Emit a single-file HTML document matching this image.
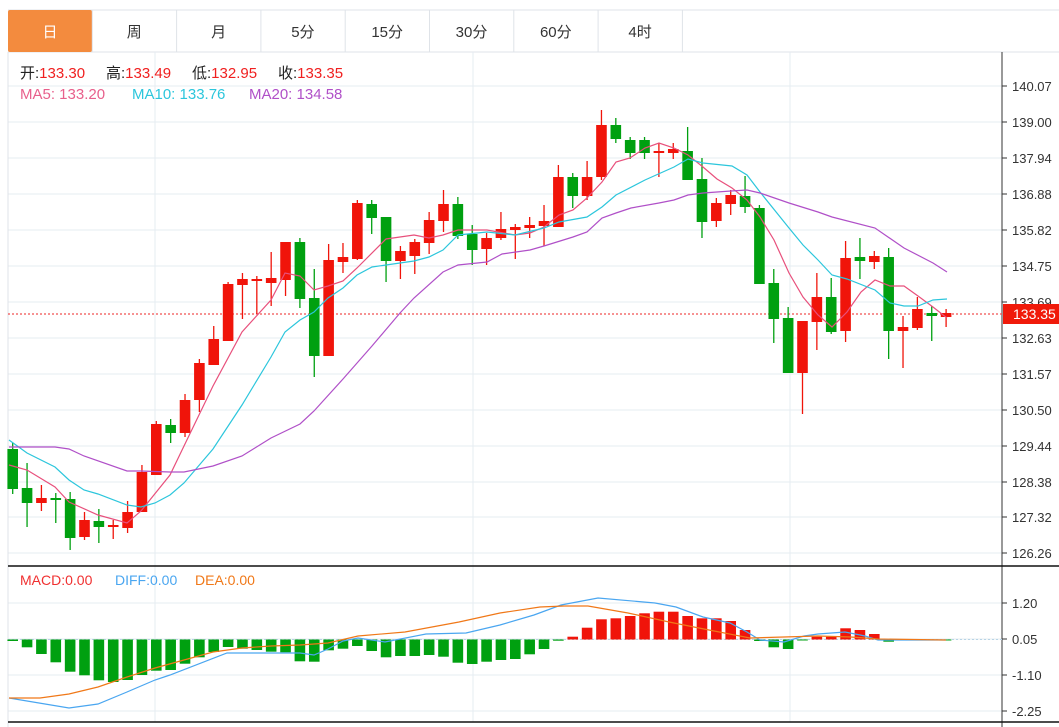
<!DOCTYPE html>
<html><head><meta charset="utf-8"><style>
body{margin:0;background:#fff;width:1059px;height:727px;overflow:hidden;font-family:"Liberation Sans","Noto Sans CJK SC",sans-serif}
svg{position:absolute;left:0;top:0}
</style></head><body>
<svg id="s" width="1059" height="727" xmlns="http://www.w3.org/2000/svg" font-family="Liberation Sans, Noto Sans CJK SC, sans-serif">
<rect x="0" y="0" width="1059" height="727" fill="#fff"/>
<g id="tabs"></g>
<g id="grid" stroke="#e6ecf2" stroke-width="1"></g>
<line x1="8" y1="52" x2="8" y2="727" stroke="#dfe3e8"/>
<line x1="1002" y1="52" x2="1002" y2="727" stroke="#333"/>
<line x1="8" y1="566" x2="1059" y2="566" stroke="#111" stroke-width="1.5"/>
<line x1="8" y1="722" x2="1059" y2="722" stroke="#111" stroke-width="1.5"/>
<line x1="8" y1="314" x2="1002" y2="314" stroke="#f05050" stroke-dasharray="2,2" stroke-width="1.2"/>
<line x1="8" y1="639.5" x2="1002" y2="639.5" stroke="#b8d4e6" stroke-dasharray="2,2"/>
<g id="candles"></g>
<g id="bars"></g>
<g id="lines" fill="none" stroke-width="1.2"></g>
<g id="axis" font-size="13" fill="#333"></g>
<rect x="1003" y="304" width="56" height="20" fill="#f01a0a"/>
<text x="1013" y="319" font-size="14" fill="#fff">133.35</text>
<g font-size="15">
<text x="20" y="78" fill="#222">开:<tspan fill="#f02020">133.30</tspan></text>
<text x="106" y="78" fill="#222">高:<tspan fill="#f02020">133.49</tspan></text>
<text x="192" y="78" fill="#222">低:<tspan fill="#f02020">132.95</tspan></text>
<text x="278" y="78" fill="#222">收:<tspan fill="#f02020">133.35</tspan></text>
<text x="20" y="99" fill="#e8608c">MA5: 133.20</text>
<text x="132" y="99" fill="#2cc6dc">MA10: 133.76</text>
<text x="249" y="99" fill="#b050c8">MA20: 134.58</text>
</g>
<g font-size="14">
<text x="20" y="585" fill="#f03030">MACD:0.00</text>
<text x="115" y="585" fill="#4aa6f0">DIFF:0.00</text>
<text x="195" y="585" fill="#f07818">DEA:0.00</text>
</g>
</svg>
<script>
const NS="http://www.w3.org/2000/svg";
function el(p,t,a,txt){const e=document.createElementNS(NS,t);for(const k in a)e.setAttribute(k,a[k]);if(txt!=null)e.textContent=txt;document.getElementById(p).appendChild(e);return e;}
const tabs=["日","周","月","5分","15分","30分","60分","4时"];
el("tabs","line",{x1:8,y1:10,x2:1059,y2:10,stroke:"#dfe3e8"});
el("tabs","line",{x1:8,y1:52,x2:1059,y2:52,stroke:"#dfe3e8"});
tabs.forEach((t,i)=>{const x=8+i*84.3;
 if(i==0)el("tabs","rect",{x:x,y:10,width:84,height:42,rx:2,fill:"#f38b3e"});
 el("tabs","line",{x1:x+84.3,y1:10,x2:x+84.3,y2:52,stroke:"#dfe3e8"});
 el("tabs","text",{x:x+42,y:37,"text-anchor":"middle","font-size":15,fill:i==0?"#fff":"#333"},t);});
const py=[[86,"140.07"],[122,"139.00"],[158,"137.94"],[194,"136.88"],[230,"135.82"],[266,"134.75"],[302,"133.69"],[338,"132.63"],[374,"131.57"],[410,"130.50"],[446,"129.44"],[482,"128.38"],[517,"127.32"],[553,"126.26"]];
py.forEach(([y,l])=>{el("grid","line",{x1:8,y1:y,x2:1002,y2:y});el("axis","line",{x1:1002,y1:y,x2:1007,y2:y,stroke:"#333"});el("axis","text",{x:1012,y:y+5},l);});
[[603,"1.20"],[639,"0.05"],[675,"-1.10"],[711,"-2.25"]].forEach(([y,l])=>{el("grid","line",{x1:8,y1:y,x2:1002,y2:y});el("axis","line",{x1:1002,y1:y,x2:1007,y2:y,stroke:"#333"});el("axis","text",{x:1012,y:y+5},l);});
[155,473,790].forEach(x=>el("grid","line",{x1:x,y1:52,x2:x,y2:722}));
const C=[["g",449,489,443,494],["g",488,503,463,527],["r",498,503,485,511],["g",498,500,493,523],["g",499,538,492,550],["r",520,537,512,540],["g",521,527,509,543],["r",525,527,520,539],["r",512,528,501,533],["r",472,512,465,512],
["r",424,475,421,475],["g",425,433,419,443],["r",400,433,394,437],["r",363,400,359,412],["r",339,365,326,365],["r",284,341,282,341],["r",279,285,273,319],["r",279,281,276,314],["r",278,283,252,306],["r",242,280,242,296],
["g",242,299,238,308],["g",298,356,269,377],["r",260,356,244,356],["r",257,262,243,273],["r",203,259,200,260],["g",204,218,200,234],["g",217,261,217,282],["r",251,261,246,279],["r",242,256,239,274],["r",220,243,212,254],
["r",204,221,190,232],["g",204,236,197,239],["g",234,250,225,265],["r",238,249,233,265],["r",229,238,212,240],["r",227,230,224,259],["r",225,228,217,238],["r",221,226,205,246],["r",177,227,165,227],["g",177,196,173,208],
["r",177,196,161,200],["r",125,177,110,180],["g",125,139,118,143],["g",140,153,137,159],["g",140,153,137,159],["r",151,153,143,177],["r",149,153,143,159],["g",151,180,127,180],["g",179,222,158,238],["r",203,221,198,227],
["r",195,204,190,215],["g",196,207,176,213],["g",208,284,205,284],["g",283,319,269,343],["g",318,373,307,373],["r",321,373,321,414],["r",297,322,273,350],["g",297,332,278,334],["r",258,331,241,342],["g",257,261,238,279],
["r",256,262,251,269],["g",257,331,248,359],["r",327,331,316,368],["r",309,328,297,330],["g",313,316,306,341],["r",313,317,309,327]];
const col={r:"#f0140a",g:"#00a010"};
C.forEach((c,i)=>{const x=12.7+14.36*i;const f=col[c[0]];
 el("candles","line",{x1:x,y1:c[3],x2:x,y2:c[4],stroke:f,"stroke-width":1.3});
 el("candles","rect",{x:x-5.3,y:c[1],width:10.6,height:Math.max(1.5,c[2]-c[1]),fill:f});});
const B=[641,647.3,654,662.3,671.7,675.3,680.3,682,680,675,670.7,670,663.7,657.3,652,647,648.7,650,651.7,652.3,661.3,661.7,650.3,648.7,646,651,657.3,656,656,655,656.7,662.7,664,661.7,660,659,654.3,649,640.7,636.7,627.7,619.3,618.3,616,613.3,611.7,611.7,616,618.3,618.3,621,630,641,647.3,649,640,636.7,636.7,628.3,630,634,641.7,640.5,640.5,640.5,640.5];
const Z=639.5;
B.forEach((y,i)=>{const x=12.7+14.36*i;const f=y>Z?"#00a010":"#f0140a";const h=Math.abs(y-Z);
 el("bars","rect",{x:x-5.3,y:Math.min(y,Z),width:10.6,height:Math.max(1,h),fill:f});});
function pl(pts,c){el("lines","polyline",{points:pts.map(p=>p.join(",")).join(" "),stroke:c});}
pl([[9,465],[27,470],[55,487],[69,502],[98,515],[127,523],[141,511],[170,475],[184,446],[213,386],[242,332],[271,300],[285,273],[300,276],[314,290],[328,286],[343,281],[357,268],[386,239],[414,235],[429,238],[443,235],[458,230],[487,230],[515,235],[530,233],[544,227],[559,215],[573,210],[587,198],[602,182],[616,162],[630,158],[645,148],[659,143],[674,148],[688,155],[703,167],[717,179],[732,188],[747,200],[760,217],[774,240],[789,273],[803,297],[818,315],[832,327],[847,312],[861,292],[875,280],[890,286],[904,286],[918,296],[933,307],[947,318]],"#e8507c");
pl([[9,440],[27,453],[55,467],[69,480],[84,490],[98,494],[127,505],[141,507],[155,503],[170,495],[184,483],[213,449],[242,405],[271,357],[285,332],[300,320],[314,312],[328,298],[343,288],[357,275],[372,267],[386,265],[414,261],[429,257],[443,250],[458,235],[487,232],[515,235],[544,228],[559,222],[587,217],[602,207],[616,195],[645,180],[674,167],[688,159],[703,163],[732,166],[747,175],[760,192],[789,228],[803,245],[818,260],[832,275],[847,279],[875,290],[890,303],[904,306],[918,306],[933,300],[947,299]],"#2cc6dc");
pl([[9,447],[40,447],[55,447],[69,449],[84,456],[127,471],[141,471],[170,472],[184,472],[213,466],[242,456],[271,438],[300,424],[314,411],[343,379],[372,346],[400,313],[414,298],[443,272],[458,265],[487,262],[502,254],[530,250],[544,246],[573,237],[587,232],[602,218],[616,213],[631,208],[659,203],[674,200],[688,195],[703,193],[731,191],[747,190],[760,193],[789,203],[818,212],[832,217],[875,228],[904,248],[933,263],[947,272]],"#b050c8");
pl([[9,698],[69,708],[98,704],[127,692],[155,680],[170,675],[227,653],[300,653],[314,655],[328,649],[343,641],[358,638],[385,642],[426,634],[466,633],[500,625],[534,615],[561,605],[598,598],[655,603],[676,607],[703,617],[730,623],[747,632],[760,640],[784,642],[804,636],[818,634],[845,632],[865,636],[878,640],[946,640]],"#4aa6f0");
pl([[9,698],[40,698],[69,694],[98,687],[127,677],[155,668],[184,660],[213,652],[242,648],[271,646],[300,645],[328,643],[358,636],[405,632],[459,622],[500,613],[540,607],[564,606],[588,606],[628,613],[669,622],[709,630],[750,638],[784,637],[818,636],[851,637],[878,639],[946,640]],"#f07818");
</script>
</body></html>
